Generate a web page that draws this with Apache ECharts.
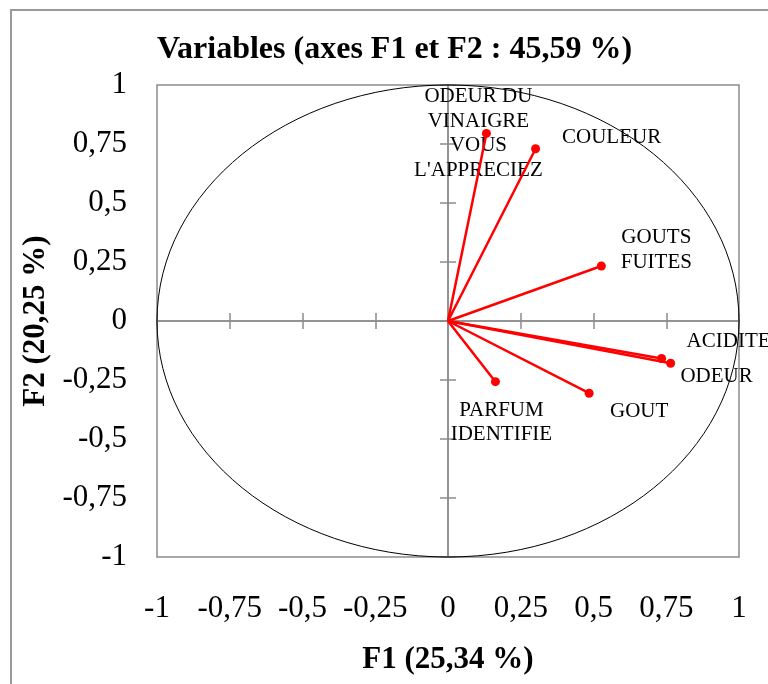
<!DOCTYPE html>
<html>
<head>
<meta charset="utf-8">
<script src="https://cdn.jsdelivr.net/npm/echarts@6/dist/echarts.min.js"></script>
<style>
  html, body { margin: 0; padding: 0; background: #ffffff; }
  #chart { width: 768px; height: 684px; }
</style>
</head>
<body>
<div id="chart"></div>
<script>
// Variables projected on the first factorial plane (correlations with F1 / F2)
const variables = [
  "ODEUR DU VINAIGRE VOUS L'APPRECIEZ",
  'COULEUR',
  'GOUTS FUITES',
  'ACIDITE',
  'ODEUR',
  'GOUT',
  'PARFUM IDENTIFIE'
];
const variableLabels = [
  "ODEUR DU\nVINAIGRE\nVOUS\nL'APPRECIEZ",
  'COULEUR',
  'GOUTS\nFUITES',
  'ACIDITE',
  'ODEUR',
  'GOUT',
  'PARFUM\nIDENTIFIE'
];
const f1 = [0.132, 0.301, 0.527, 0.734, 0.765, 0.485, 0.163];
const f2 = [0.795, 0.730, 0.233, -0.159, -0.179, -0.306, -0.257];

const axisMin = -1;
const axisMax = 1;
const axisStep = 0.25;
const circleRadius = 1;

const titleText = 'Variables (axes F1 et F2 : 45,59 %)';
const xName = 'F1 (25,34 %)';
const yName = 'F2 (20,25 %)';

// label placement (pixel offsets of the label centre from its point)
const labelOffsets = [
  [-8, 0],
  [76, -11],
  [55, -16],
  [67, -17],
  [46, 13],
  [50, 18],
  [6, 41]
];

const SERIF = '"Liberation Serif", "Times New Roman", serif';
const GRAY = '#8c8c8c';
const RED = '#ff0000';

const fmt = v => String(v).replace('.', ',');

const baseAxis = {
  type: 'value',
  min: axisMin,
  max: axisMax,
  interval: axisStep,
  splitLine: { show: false }
};

const chart = echarts.init(document.getElementById('chart'));

chart.setOption({
  animation: false,
  backgroundColor: '#ffffff',
  graphic: [
    {
      type: 'rect',
      shape: { x: 11, y: 10, width: 800, height: 720 },
      style: { fill: 'none', stroke: '#9a9a9a', lineWidth: 2 },
      silent: true,
      z: -10
    },
    {
      type: 'text',
      x: 394.5, y: 50,
      style: {
        text: titleText,
        fill: '#000',
        font: 'bold 32px ' + SERIF,
        align: 'center',
        verticalAlign: 'middle'
      }
    }
  ],
  grid: {
    left: 157, top: 85, right: 29, bottom: 127,
    show: true,
    borderColor: GRAY,
    borderWidth: 1.5,
    backgroundColor: 'transparent'
  },
  xAxis: [
    Object.assign({}, baseAxis, {
      position: 'bottom',
      axisLine: { show: false, onZero: false },
      axisTick: { show: false },
      axisLabel: { formatter: fmt, margin: 36, color: '#000', fontSize: 31, fontFamily: SERIF },
      name: xName,
      nameLocation: 'middle',
      nameGap: 87,
      nameTextStyle: { color: '#000', fontSize: 31, fontWeight: 'bold', fontFamily: SERIF }
    }),
    Object.assign({}, baseAxis, {
      position: 'bottom',
      axisLine: { show: true, onZero: true, onZeroAxisIndex: 0, lineStyle: { color: GRAY, width: 1.5 } },
      axisTick: { show: true, length: 8, lineStyle: { color: GRAY, width: 1.5 } },
      axisLabel: { show: false }
    }),
    Object.assign({}, baseAxis, {
      position: 'top',
      axisLine: { show: true, onZero: true, onZeroAxisIndex: 0, lineStyle: { color: GRAY, width: 1.5 } },
      axisTick: { show: true, length: 8, lineStyle: { color: GRAY, width: 1.5 } },
      axisLabel: { show: false }
    })
  ],
  yAxis: [
    Object.assign({}, baseAxis, {
      position: 'left',
      axisLine: { show: false, onZero: false },
      axisTick: { show: false },
      axisLabel: { formatter: fmt, margin: 30, color: '#000', fontSize: 31, fontFamily: SERIF },
      name: yName,
      nameLocation: 'middle',
      nameGap: 99,
      nameTextStyle: { color: '#000', fontSize: 31, fontWeight: 'bold', fontFamily: SERIF }
    }),
    Object.assign({}, baseAxis, {
      position: 'left',
      axisLine: { show: true, onZero: true, onZeroAxisIndex: 0, lineStyle: { color: GRAY, width: 1.5 } },
      axisTick: { show: true, length: 8, lineStyle: { color: GRAY, width: 1.5 } },
      axisLabel: { show: false }
    }),
    Object.assign({}, baseAxis, {
      position: 'right',
      axisLine: { show: true, onZero: true, onZeroAxisIndex: 0, lineStyle: { color: GRAY, width: 1.5 } },
      axisTick: { show: true, length: 8, lineStyle: { color: GRAY, width: 1.5 } },
      axisLabel: { show: false }
    })
  ],
  series: [
    {
      // correlation circle of radius 1
      type: 'custom',
      xAxisIndex: 0,
      yAxisIndex: 0,
      silent: true,
      data: [[0, 0, circleRadius]],
      renderItem: function (params, api) {
        const c = api.coord([api.value(0), api.value(1)]);
        const r = api.value(2);
        const rx = api.coord([r, 0])[0] - c[0];
        const ry = c[1] - api.coord([0, r])[1];
        return {
          type: 'ellipse',
          shape: { cx: c[0], cy: c[1], rx: rx, ry: ry },
          style: { fill: 'none', stroke: '#000', lineWidth: 1 }
        };
      },
      z: 1
    },
    {
      // variable vectors with end points and names
      type: 'custom',
      xAxisIndex: 0,
      yAxisIndex: 0,
      data: f1.map((x, i) => [x, f2[i]]),
      renderItem: function (params, api) {
        const i = params.dataIndex;
        const o = api.coord([0, 0]);
        const p = api.coord([api.value(0), api.value(1)]);
        const off = labelOffsets[i];
        return {
          type: 'group',
          children: [
            {
              type: 'text',
              x: p[0] + off[0],
              y: p[1] + off[1],
              style: {
                text: variableLabels[i],
                fill: '#000',
                font: '21px ' + SERIF,
                lineHeight: 24.5,
                align: 'center',
                verticalAlign: 'middle'
              },
              z2: 1
            },
            {
              type: 'line',
              shape: { x1: o[0], y1: o[1], x2: p[0], y2: p[1] },
              style: { stroke: RED, lineWidth: 2.5 },
              z2: 2
            },
            {
              type: 'circle',
              shape: { cx: p[0], cy: p[1], r: 4.5 },
              style: { fill: RED },
              z2: 3
            }
          ]
        };
      },
      z: 2
    }
  ]
});
</script>
</body>
</html>
